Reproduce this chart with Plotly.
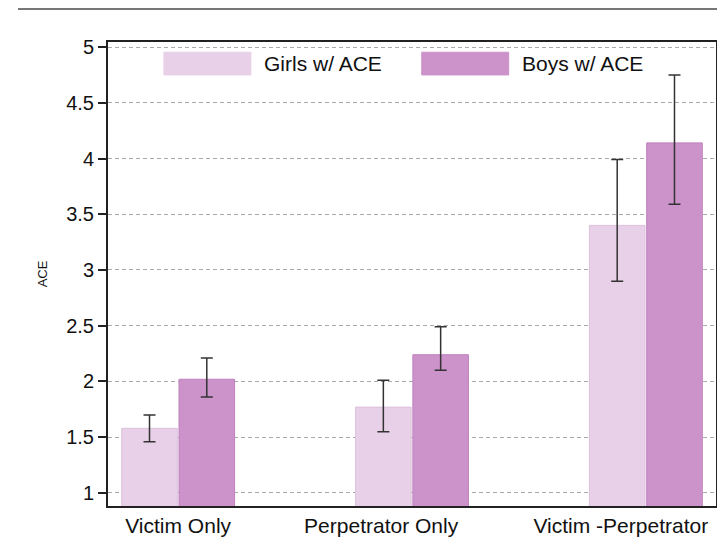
import plotly.graph_objects as go

categories = ['Victim Only', 'Perpetrator Only', 'Victim -Perpetrator']
bar_pos = [0, 1, 2]
label_pos = [0, 0.868, 1.893]   # the labels in the original sit a bit left of the bar groups
girls_ace = [1.58, 1.77, 3.40]
girls_lo = [1.46, 1.55, 2.90]
girls_hi = [1.70, 2.01, 3.99]
boys_ace = [2.02, 2.24, 4.14]
boys_lo = [1.86, 2.10, 3.59]
boys_hi = [2.21, 2.49, 4.75]
y_ticks = [1, 1.5, 2, 2.5, 3, 3.5, 4, 4.5, 5]
y_tick_labels = ['1', '1.5', '2', '2.5', '3', '3.5', '4', '4.5', '5']

GIRLS_COLOR = '#e8d0e8'
BOYS_COLOR = '#cc92ca'
FONT = 'Liberation Sans, Arial, Helvetica, sans-serif'

fig = go.Figure()

# bars with asymmetric error bars
fig.add_trace(go.Bar(
    x=bar_pos, y=girls_ace, name='Girls w/ ACE',
    marker=dict(color=GIRLS_COLOR, line=dict(color='#dcc0dc', width=1)),
    error_y=dict(type='data', symmetric=False,
                 array=[h - v for h, v in zip(girls_hi, girls_ace)],
                 arrayminus=[v - l for v, l in zip(girls_ace, girls_lo)],
                 color='#333333', thickness=1.5, width=6),
    showlegend=False,
))
fig.add_trace(go.Bar(
    x=bar_pos, y=boys_ace, name='Boys w/ ACE',
    marker=dict(color=BOYS_COLOR, line=dict(color='#bf80bd', width=1)),
    error_y=dict(type='data', symmetric=False,
                 array=[h - v for h, v in zip(boys_hi, boys_ace)],
                 arrayminus=[v - l for v, l in zip(boys_ace, boys_lo)],
                 color='#333333', thickness=1.5, width=6),
    showlegend=False,
))

# legend drawn by hand (wide colour swatches)
legend_items = [('Girls w/ ACE', GIRLS_COLOR, 0.092), ('Boys w/ ACE', BOYS_COLOR, 0.516)]
for label, color, x0 in legend_items:
    fig.add_shape(type='rect', xref='paper', yref='paper',
                  x0=x0, x1=x0 + 0.143, y0=0.929, y1=0.978,
                  fillcolor=color, line=dict(color=color, width=1), layer='above')
    fig.add_annotation(text=label, xref='paper', yref='paper',
                       x=x0 + 0.162, y=0.953, xanchor='left', yanchor='middle',
                       showarrow=False, font=dict(size=21, color='#111111'))

# top rule line
fig.add_shape(type='line', xref='paper', yref='paper',
              x0=-0.148, x1=1.02, y0=1.071, y1=1.071,
              line=dict(color='#777777', width=2))

# page body has an 8px margin, so the figure is 8px smaller than the window
fig.update_layout(
    width=717, height=544,
    barmode='group', bargap=0.51, bargroupgap=0.03,
    paper_bgcolor='white', plot_bgcolor='white',
    font=dict(family=FONT, color='#111111'),
    margin=dict(l=100, r=9, t=34, b=46),
)

fig.update_yaxes(
    range=[0.883, 5.045],
    tickvals=y_ticks, ticktext=y_tick_labels,
    tickfont=dict(size=20),
    ticks='outside', ticklen=8, tickwidth=1.5, tickcolor='#222222',
    showgrid=True, gridcolor='#aaaaaa', griddash='4px,3px', gridwidth=1,
    zeroline=False, automargin=False,
    showline=True, linecolor='#222222', linewidth=2, mirror=True,
    title=dict(text='ACE', font=dict(size=13), standoff=16),
)
fig.update_xaxes(
    range=[-0.3, 2.3],
    tickvals=label_pos, ticktext=categories,
    tickfont=dict(size=21),
    ticks='', automargin=False,
    showgrid=False, zeroline=False,
    showline=True, linecolor='#222222', linewidth=2, mirror=True,
)

fig.write_html('out.html')
